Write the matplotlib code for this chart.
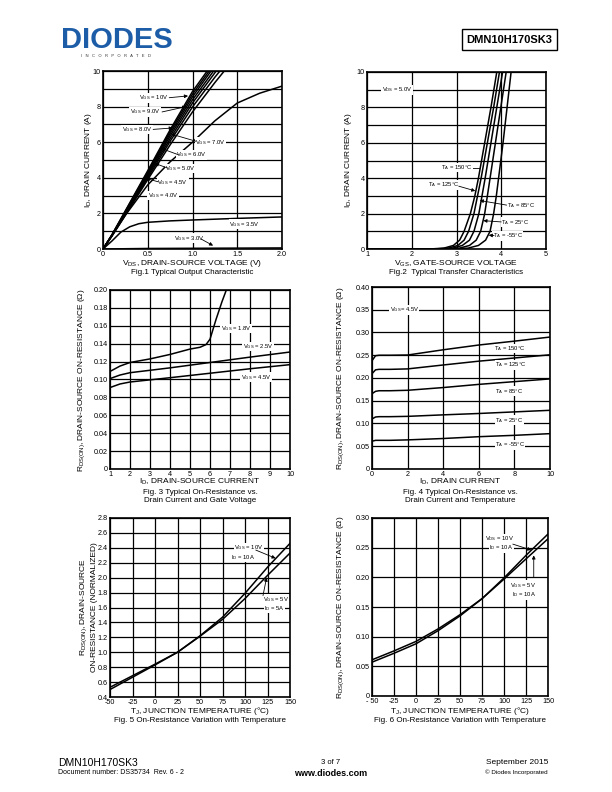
import matplotlib
matplotlib.use('Agg')
import matplotlib.pyplot as plt
from matplotlib.patches import Rectangle

plt.rcParams['font.family'] = ['Liberation Sans', 'DejaVu Sans']
plt.rcParams['mathtext.fontset'] = 'custom'
plt.rcParams['mathtext.rm'] = 'Liberation Sans'
plt.rcParams['mathtext.it'] = 'Liberation Sans:italic'
plt.rcParams['mathtext.bf'] = 'Liberation Sans:bold'

# ---- Fig.1 output characteristic ----
vds_lin = [0, 0.1, 0.25, 0.5, 0.75, 1.0, 1.25, 1.5]
id_vgs10 = [0, 0.80, 2.15, 4.40, 6.70, 8.85, 10.6, 12.2]
id_vgs9 = [0, 0.79, 2.12, 4.33, 6.60, 8.70, 10.45, 12.0]
id_vgs8 = [0, 0.78, 2.08, 4.26, 6.48, 8.55, 10.3, 11.8]
id_vgs7 = [0, 0.77, 2.04, 4.18, 6.35, 8.38, 10.1, 11.6]
id_vgs6 = [0, 0.76, 2.00, 4.10, 6.20, 8.20, 9.90, 11.5]
id_vgs5 = [0, 0.74, 1.95, 4.00, 6.05, 7.98, 9.65, 11.2]
id_vgs45 = [0, 0.72, 1.90, 3.90, 5.85, 7.70, 9.35, 10.9]
vds_40 = [0, 0.25, 0.5, 0.75, 1.0, 1.25, 1.5, 1.75, 2.0]
id_vgs40 = [0, 1.9, 3.6, 4.9, 6.0, 7.2, 8.2, 8.75, 9.15]
vds_35 = [0, 0.1, 0.2, 0.3, 0.4, 0.5, 0.75, 1.0, 1.5, 2.0]
id_vgs35 = [0, 0.45, 0.95, 1.25, 1.42, 1.50, 1.58, 1.63, 1.72, 1.80]
vds_30 = [0, 0.5, 1.0, 1.5, 2.0]
id_vgs30 = [0, 0.03, 0.04, 0.05, 0.06]

# ---- Fig.2 transfer characteristic (VGS at given ID levels) ----
id_levels = [0, 0, 0.05, 0.2, 0.5, 1, 2, 3, 4, 6, 8, 10]
vgs_t150 = [1.0, 2.40, 2.72, 2.93, 3.07, 3.17, 3.31, 3.41, 3.49, 3.63, 3.77, 3.90]
vgs_t125 = [1.0, 2.50, 2.82, 3.03, 3.17, 3.27, 3.39, 3.47, 3.55, 3.69, 3.83, 3.96]
vgs_t85 = [1.0, 2.60, 2.92, 3.13, 3.29, 3.39, 3.50, 3.57, 3.64, 3.77, 3.90, 4.03]
vgs_t25 = [1.0, 2.75, 3.07, 3.29, 3.44, 3.54, 3.63, 3.69, 3.75, 3.87, 3.99, 4.11]
vgs_tm55 = [1.0, 2.90, 3.26, 3.49, 3.65, 3.75, 3.83, 3.89, 3.94, 4.04, 4.13, 4.22]

# ---- Fig.3 RDS(on) vs ID and VGS ----
id3_18 = [1, 1.5, 2, 3, 4, 5, 5.5, 5.8, 6.0, 6.3, 6.6, 6.85]
r_vgs18 = [0.109, 0.115, 0.119, 0.123, 0.128, 0.134, 0.136, 0.139, 0.145, 0.167, 0.187, 0.202]
id3 = [1, 1.5, 2, 4, 6, 8, 10]
r_vgs25 = [0.101, 0.105, 0.1076, 0.113, 0.119, 0.125, 0.1307]
r_vgs45 = [0.091, 0.095, 0.0972, 0.102, 0.107, 0.112, 0.1166]

# ---- Fig.4 RDS(on) vs ID and temperature ----
id4 = [0, 0.2, 0.4, 1, 2, 4, 6, 8, 10]
r_t150 = [0.238, 0.249, 0.250, 0.250, 0.2505, 0.262, 0.2725, 0.281, 0.290]
r_t125 = [0.2095, 0.218, 0.219, 0.219, 0.220, 0.2286, 0.237, 0.244, 0.251]
r_t85 = [0.1655, 0.1707, 0.172, 0.172, 0.173, 0.179, 0.186, 0.192, 0.198]
r_t25 = [0.110, 0.1143, 0.115, 0.115, 0.1157, 0.119, 0.122, 0.1255, 0.129]
r_tm55 = [0.061, 0.063, 0.063, 0.063, 0.064, 0.067, 0.071, 0.074, 0.0777]

# ---- Fig.5 / Fig.6 RDS(on) vs junction temperature ----
tj = [-50, -25, 0, 25, 50, 75, 100, 125, 150]
rn_10v10a = [0.50, 0.665, 0.83, 1.0, 1.22, 1.47, 1.79, 2.14, 2.46]
rn_5v5a = [0.53, 0.685, 0.84, 1.0, 1.215, 1.44, 1.72, 2.03, 2.33]
r_10v10a = [0.057, 0.072, 0.088, 0.110, 0.135, 0.164, 0.199, 0.237, 0.273]
r_5v10a = [0.061, 0.076, 0.092, 0.113, 0.137, 0.164, 0.197, 0.231, 0.265]

W, H = 612, 792
fig = plt.figure(figsize=(6.12, 7.92), dpi=100)


def box(l, t, r, b):
    return [l / W, 1 - b / H, (r - l) / W, (b - t) / H]


def ftext(x, y, s, **kw):
    kw.setdefault('ha', 'center')
    kw.setdefault('va', 'center')
    fig.text(x / W, 1 - y / H, s, **kw)


def style(ax, xlim, ylim, xt, yt, xgrid, ygrid, xlab, ylab):
    ax.set_xlim(xlim)
    ax.set_ylim(ylim)
    ax.set_xticks(xt)
    ax.set_xticklabels(xlab)
    ax.set_yticks(yt)
    ax.set_yticklabels(ylab)
    ax.set_xticks(xgrid, minor=True)
    ax.set_yticks(ygrid, minor=True)
    ax.grid(which='both', color='black', lw=0.9)
    ax.set_axisbelow(True)
    ax.tick_params(which='both', length=0, labelsize=5.2, pad=1.5)
    for s in ax.spines.values():
        s.set_linewidth(1.2)


def lab(ax, x, y, s, ha='center'):
    ax.text(x, y, s, fontsize=4.2, ha=ha, va='center', zorder=5,
            bbox=dict(facecolor='white', edgecolor='none', pad=0.3))


def arr(ax, xy, xytext):
    ax.annotate('', xy=xy, xytext=xytext, zorder=6,
                arrowprops=dict(arrowstyle='-|>', color='black', lw=0.6,
                                mutation_scale=5, shrinkA=0, shrinkB=0))


LW = 1.1

# Fig 1
ax1 = fig.add_axes(box(103, 71, 282, 249))
for ids in [id_vgs10, id_vgs9, id_vgs8, id_vgs7, id_vgs6, id_vgs5, id_vgs45]:
    ax1.plot(vds_lin, ids, color='black', lw=LW)
ax1.plot(vds_40, id_vgs40, color='black', lw=LW)
ax1.plot(vds_35, id_vgs35, color='black', lw=LW)
ax1.plot(vds_30, id_vgs30, color='black', lw=LW)
style(ax1, (0, 2.0), (0, 10), [0, 0.5, 1.0, 1.5, 2.0], range(0, 11, 2),
      [0.5, 1.0, 1.5], range(1, 10), ['0', '0.5', '1.0', '1.5', '2.0'],
      [str(v) for v in range(0, 11, 2)])
arr(ax1, (0.95, 8.6), (0.74, 8.5))
lab(ax1, 0.56, 8.5, r'V$_{\rm GS}$ = 10V')
arr(ax1, (0.93, 8.0), (0.66, 7.7))
lab(ax1, 0.47, 7.7, r'V$_{\rm GS}$ = 9.0V')
arr(ax1, (0.78, 6.8), (0.56, 6.72))
lab(ax1, 0.38, 6.72, r'V$_{\rm GS}$ = 8.0V')
arr(ax1, (0.76, 6.46), (1.04, 6.05))
lab(ax1, 1.2, 6.0, r'V$_{\rm GS}$ = 7.0V')
arr(ax1, (0.65, 5.65), (0.84, 5.3))
lab(ax1, 0.99, 5.28, r'V$_{\rm GS}$ = 6.0V')
arr(ax1, (0.58, 4.81), (0.72, 4.55))
lab(ax1, 0.87, 4.53, r'V$_{\rm GS}$ = 5.0V')
arr(ax1, (0.48, 3.97), (0.62, 3.77))
lab(ax1, 0.78, 3.75, r'V$_{\rm GS}$ = 4.5V')
lab(ax1, 0.67, 3.0, r'V$_{\rm GS}$ = 4.0V')
lab(ax1, 1.58, 1.4, r'V$_{\rm GS}$ = 3.5V')
arr(ax1, (1.23, 0.19), (1.1, 0.55))
lab(ax1, 0.96, 0.6, r'V$_{\rm GS}$ = 3.0V')
ftext(192, 263.5, r'V$_{\rm DS}$, DRAIN-SOURCE VOLTAGE (V)', fontsize=6)
ftext(192, 273, 'Fig.1 Typical Output Characteristic', fontsize=5.8)
ftext(89, 160, r'I$_{\rm D}$, DRAIN CURRENT (A)', fontsize=6, rotation=90)

# Fig 2
ax2 = fig.add_axes(box(367, 72, 546, 249))
for v in [vgs_t150, vgs_t125, vgs_t85, vgs_t25, vgs_tm55]:
    ax2.plot(v, id_levels, color='black', lw=LW)
style(ax2, (1, 5), (0, 10), [1, 2, 3, 4, 5], range(0, 11, 2),
      [2, 3, 4], range(1, 10), ['1', '2', '3', '4', '5'],
      [str(v) for v in range(0, 11, 2)])
lab(ax2, 1.67, 9.0, r'V$_{\rm DS}$ = 5.0V')
ax2.plot([3.28, 3.5], [4.6, 4.6], color='black', lw=0.6)
lab(ax2, 3.0, 4.6, r'T$_{\rm A}$ = 150°C')
arr(ax2, (3.42, 3.28), (3.05, 3.55))
lab(ax2, 2.72, 3.62, r'T$_{\rm A}$ = 125°C')
arr(ax2, (3.52, 2.74), (4.12, 2.48))
lab(ax2, 4.44, 2.44, r'T$_{\rm A}$ = 85°C')
arr(ax2, (3.6, 1.6), (4.0, 1.53))
lab(ax2, 4.31, 1.52, r'T$_{\rm A}$ = 25°C')
arr(ax2, (3.72, 0.78), (3.84, 0.76))
lab(ax2, 4.14, 0.75, r'T$_{\rm A}$ = -55°C')
ftext(456, 263.5, r'V$_{\rm GS}$, GATE-SOURCE VOLTAGE', fontsize=6)
ftext(456, 273, 'Fig.2  Typical Transfer Characteristics', fontsize=5.8)
ftext(348, 160, r'I$_{\rm D}$, DRAIN CURRENT (A)', fontsize=6, rotation=90)

# Fig 3
ax3 = fig.add_axes(box(110, 290, 290, 469))
ax3.plot(id3_18, r_vgs18, color='black', lw=LW)
ax3.plot(id3, r_vgs25, color='black', lw=LW)
ax3.plot(id3, r_vgs45, color='black', lw=LW)
yt3 = [i * 0.02 for i in range(11)]
style(ax3, (1, 10), (0, 0.2), range(1, 11), yt3, range(2, 10), yt3,
      [str(v) for v in range(1, 11)],
      ['0'] + ['%.2f' % v for v in yt3[1:]])
lab(ax3, 7.3, 0.157, r'V$_{\rm GS}$ = 1.8V')
lab(ax3, 8.4, 0.137, r'V$_{\rm GS}$ = 2.5V')
lab(ax3, 8.3, 0.1025, r'V$_{\rm GS}$ = 4.5V')
ftext(200, 482, r'I$_{\rm D}$, DRAIN-SOURCE CURRENT', fontsize=6)
ftext(200, 497, 'Fig. 3 Typical On-Resistance vs.\nDrain Current and Gate Voltage',
      fontsize=5.8, linespacing=1.2)
ftext(82, 380, r'R$_{\rm DS(ON)}$, DRAIN-SOURCE ON-RESISTANCE (Ω)', fontsize=6,
      rotation=90)

# Fig 4
ax4 = fig.add_axes(box(372, 287, 550, 469))
for r in [r_t150, r_t125, r_t85, r_t25, r_tm55]:
    ax4.plot(id4, r, color='black', lw=LW)
yt4 = [i * 0.05 for i in range(9)]
style(ax4, (0, 10), (0, 0.4), range(0, 11, 2), yt4, range(2, 10, 2), yt4,
      [str(v) for v in range(0, 11, 2)],
      ['0'] + ['%.2f' % v for v in yt4[1:]])
lab(ax4, 1.82, 0.35, r'V$_{\rm GS}$= 4.5V')
lab(ax4, 7.75, 0.265, r'T$_{\rm A}$ = 150°C')
lab(ax4, 7.8, 0.229, r'T$_{\rm A}$ = 125°C')
lab(ax4, 7.7, 0.171, r'T$_{\rm A}$ = 85°C')
lab(ax4, 7.7, 0.107, r'T$_{\rm A}$ = 25°C')
lab(ax4, 7.75, 0.053, r'T$_{\rm A}$ = -55°C')
ftext(460, 482, r'I$_{\rm D}$, DRAIN CURRENT', fontsize=6)
ftext(460, 497, 'Fig. 4 Typical On-Resistance vs.\nDrain Current and Temperature',
      fontsize=5.8, linespacing=1.2)
ftext(341, 378, r'R$_{\rm DS(ON)}$, DRAIN-SOURCE ON-RESISTANCE (Ω)', fontsize=6,
      rotation=90)

# Fig 5
ax5 = fig.add_axes(box(110, 518, 290, 697))
ax5.plot(tj, rn_10v10a, color='black', lw=LW)
ax5.plot(tj, rn_5v5a, color='black', lw=LW)
yt5 = [0.4 + i * 0.2 for i in range(13)]
style(ax5, (-50, 150), (0.4, 2.8), tj, yt5, tj[1:-1], yt5,
      [str(v) for v in tj], ['%.1f' % v for v in yt5])
lab(ax5, 104, 2.40, r'V$_{\rm GS}$ = 10V')
lab(ax5, 98, 2.27, r'I$_{\rm D}$ = 10A')
arr(ax5, (134, 2.26), (112, 2.37))
lab(ax5, 134, 1.71, r'V$_{\rm GS}$ = 5V')
lab(ax5, 133, 1.59, r'I$_{\rm D}$ = 5A')
arr(ax5, (124, 2.0), (120, 1.76))
ftext(200, 711, r'T$_{\rm J}$, JUNCTION TEMPERATURE (°C)', fontsize=6)
ftext(200, 721, 'Fig. 5 On-Resistance Variation with Temperature', fontsize=5.8)
ftext(88, 607, r'R$_{\rm DS(ON)}$, DRAIN-SOURCE' + '\nON-RESISTANCE (NORMALIZED)',
      fontsize=6, rotation=90, linespacing=1.3)

# Fig 6
ax6 = fig.add_axes(box(372, 518, 548, 696))
ax6.plot(tj, r_10v10a, color='black', lw=LW)
ax6.plot(tj, r_5v10a, color='black', lw=LW)
yt6 = [i * 0.05 for i in range(7)]
style(ax6, (-50, 150), (0, 0.3), tj, yt6, tj[1:-1], yt6,
      ['- 50'] + [str(v) for v in tj[1:]],
      ['0'] + ['%.2f' % v for v in yt6[1:]])
lab(ax6, 95, 0.265, r'V$_{\rm DS}$ = 10V')
lab(ax6, 97, 0.25, r'I$_{\rm D}$ = 10A')
arr(ax6, (131, 0.246), (110, 0.256))
lab(ax6, 121, 0.1865, r'V$_{\rm GS}$ = 5V')
lab(ax6, 122.5, 0.1705, r'I$_{\rm D}$ = 10A')
arr(ax6, (133.8, 0.237), (133.8, 0.2))
ftext(460, 711, r'T$_{\rm J}$, JUNCTION TEMPERATURE (°C)', fontsize=6)
ftext(460, 721, 'Fig. 6 On-Resistance Variation with Temperature', fontsize=5.8)
ftext(341, 607, r'R$_{\rm DS(ON)}$, DRAIN-SOURCE ON-RESISTANCE (Ω)', fontsize=6,
      rotation=90)

# header
ftext(117, 40, 'DIODES', fontsize=21, fontweight='bold', color='#1d5da8')
ftext(116, 56, 'I   N   C   O   R   P   O   R   A   T   E   D', fontsize=3.0,
      color='#333333')
fig.patches.append(Rectangle((462 / W, 1 - 50 / H), 95 / W, 21 / H,
                             transform=fig.transFigure, fill=False,
                             edgecolor='black', lw=1.0))
ftext(509.5, 40, 'DMN10H170SK3', fontsize=8, fontweight='bold')

# footer
ftext(58, 763, 'DMN10H170SK3', fontsize=7.5, ha='left')
ftext(58, 773, 'Document number: DS35734  Rev. 6 - 2', fontsize=5, ha='left')
ftext(331, 763, '3 of 7', fontsize=5.5)
ftext(331, 773, 'www.diodes.com', fontsize=6.5, fontweight='bold')
ftext(548, 763, 'September 2015', fontsize=6, ha='right')
ftext(548, 772, '© Diodes Incorporated', fontsize=4.5, ha='right')

fig.savefig('out.png', dpi=100)
